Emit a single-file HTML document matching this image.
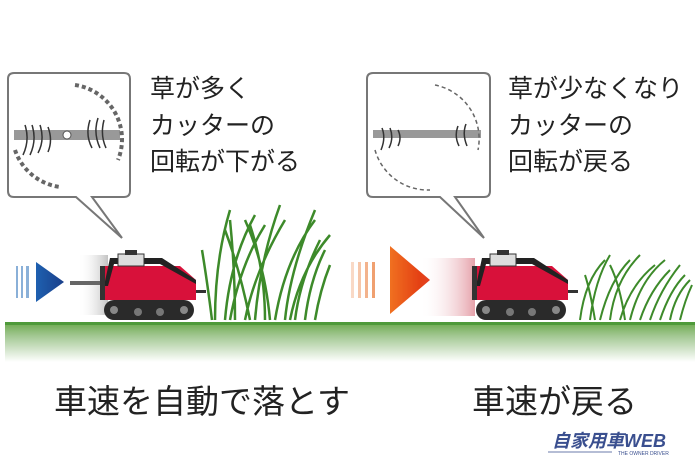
<!DOCTYPE html>
<html><head><meta charset="utf-8"><style>
body{margin:0;width:700px;height:466px;background:#fff;overflow:hidden;font-family:"Liberation Sans","Noto Sans CJK JP",sans-serif}
</style></head><body>
<svg width="700" height="466" viewBox="0 0 700 466" xmlns="http://www.w3.org/2000/svg">
<defs>
<linearGradient id="gr" x1="0" y1="0" x2="0" y2="1"><stop offset="0" stop-color="#6aa84a"/><stop offset="0.35" stop-color="#a3c893"/><stop offset="1" stop-color="#fff"/></linearGradient>
<linearGradient id="blue" x1="0" y1="0" x2="1" y2="0"><stop offset="0" stop-color="#1e60b0"/><stop offset="1" stop-color="#1a3f8a"/></linearGradient>
<linearGradient id="red" x1="0" y1="0" x2="1" y2="0"><stop offset="0" stop-color="#f07020"/><stop offset="1" stop-color="#e03010"/></linearGradient>
<linearGradient id="blurL" x1="0" y1="0" x2="1" y2="0"><stop offset="0" stop-color="#fff" stop-opacity="0"/><stop offset="1" stop-color="#999"/></linearGradient>
<linearGradient id="blurR" x1="0" y1="0" x2="1" y2="0"><stop offset="0" stop-color="#fff" stop-opacity="0"/><stop offset="1" stop-color="#c45"/></linearGradient>
<g id="mower">
 <path d="M0,8 L80,8 L96,22 L96,42 L0,42 Z" fill="#d8113a"/>
 <path d="M10,0 L62,0 L96,22 L96,26 L60,6 L14,6 L8,28 L4,28 Z" fill="#222"/>
 <rect x="18" y="-4" width="26" height="12" fill="#ddd" stroke="#333"/>
 <rect x="25" y="-8" width="12" height="5" fill="#333"/>
 <path d="M0,8 L5,8 L5,42 L0,42Z" fill="#333"/>
 <rect x="96" y="32" width="10" height="3" fill="#333"/>
 <rect x="4" y="42" width="90" height="20" rx="10" fill="#2a2a2a"/>
 <circle cx="14" cy="52" r="4" fill="#888"/><circle cx="84" cy="52" r="4" fill="#888"/>
 <circle cx="38" cy="54" r="4" fill="#777"/><circle cx="60" cy="54" r="4" fill="#777"/>
</g>
</defs>
<rect x="5" y="322" width="690" height="40" fill="url(#gr)"/>
<rect x="5" y="322" width="690" height="3" fill="#4f9a3a"/>

<path d="M14,73 H124 Q130,73 130,79 V191 Q130,197 124,197 H92 L122,238 L76,197 H14 Q8,197 8,191 V79 Q8,73 14,73Z" fill="#fff" stroke="#777" stroke-width="2"/>
<rect x="14" y="130" width="106" height="10" fill="#999"/>
<path d="M75,85 A55,55 0 0 1 118,160" fill="none" stroke="#666" stroke-width="4" stroke-dasharray="4 3"/>
<path d="M15,150 A55,55 0 0 0 60,187" fill="none" stroke="#666" stroke-width="4" stroke-dasharray="4 3"/>
<g stroke="#333" fill="none" stroke-width="1.5"><path d="M25,125 q5,15 -2,30 M32,125 q5,15 -2,30 M40,125 q5,15 -2,28 M48,127 q5,13 0,25 M90,120 q-5,15 2,28 M98,118 q-5,15 2,30 M104,120 q-4,15 2,28"/></g>
<circle cx="67" cy="135" r="4" fill="#fff" stroke="#555"/>
<g font-size="25" fill="#222"><text x="150" y="97">草が多く</text><text x="150" y="134">カッターの</text><text x="150" y="170">回転が下がる</text></g>

<path d="M373,73 H484 Q490,73 490,79 V191 Q490,197 484,197 H455 L484,238 L440,197 H373 Q367,197 367,191 V79 Q367,73 373,73Z" fill="#fff" stroke="#777" stroke-width="2"/>
<rect x="373" y="130" width="108" height="8" fill="#999"/>
<path d="M435,85 A55,55 0 0 1 478,150" fill="none" stroke="#666" stroke-width="1.5" stroke-dasharray="4 3"/>
<path d="M375,150 A55,55 0 0 0 430,190" fill="none" stroke="#666" stroke-width="1.5" stroke-dasharray="4 3"/>
<g stroke="#333" fill="none" stroke-width="1.5"><path d="M382,128 q4,10 -1,22 M390,128 q4,10 -1,20 M398,130 q4,8 0,16 M458,126 q-4,10 1,20 M466,124 q-4,10 1,22"/></g>
<g font-size="25" fill="#222"><text x="508" y="97">草が少なくなり</text><text x="508" y="134">カッターの</text><text x="508" y="170">回転が戻る</text></g>

<g fill="#8ab0d8"><rect x="16" y="266" width="2" height="32"/><rect x="21" y="266" width="2" height="32"/><rect x="26" y="266" width="3" height="32"/></g>
<path d="M36,262 L64,282 L36,302Z" fill="url(#blue)"/>
<rect x="78" y="255" width="30" height="60" fill="url(#blurL)" opacity="0.6"/>
<rect x="70" y="281" width="32" height="4" fill="#666"/>
<use href="#mower" transform="translate(100,258)"/>
<g stroke="#3d8a2a" stroke-width="2.5" fill="none">
<path d="M215,320 q0,-60 15,-110 M225,320 q5,-60 30,-105 M235,320 q0,-50 -5,-100 M245,320 q10,-50 40,-100 M255,320 q5,-60 25,-115 M265,320 q0,-50 -15,-95 M275,320 q10,-60 40,-100 M285,320 q5,-50 30,-110 M295,320 q5,-40 25,-80 M305,320 q5,-40 20,-70 M212,320 q-5,-40 -10,-70 M250,320 q-10,-50 -25,-90 M230,320 q10,-55 35,-95 M270,320 q-5,-55 -25,-100 M290,320 q10,-50 40,-85 M315,320 q5,-30 15,-55"/>
</g>

<g fill="#f0a070"><rect x="351" y="262" width="3" height="36" opacity=".4"/><rect x="358" y="262" width="3" height="36" opacity=".6"/><rect x="365" y="262" width="3" height="36" opacity=".8"/><rect x="372" y="262" width="3" height="36"/></g>
<path d="M390,246 L430,280 L390,314Z" fill="url(#red)"/>
<rect x="420" y="258" width="55" height="58" fill="url(#blurR)" opacity="0.5"/>
<use href="#mower" transform="translate(472,258)"/>
<g stroke="#3d8a2a" stroke-width="2" fill="none">
<path d="M580,320 q5,-40 25,-60 M590,320 q5,-40 20,-65 M600,320 q10,-40 30,-60 M610,320 q5,-40 30,-65 M620,320 q10,-35 35,-55 M630,320 q10,-40 35,-60 M640,320 q10,-30 30,-50 M650,320 q10,-30 30,-55 M660,320 q10,-30 25,-45 M670,320 q5,-25 20,-40 M595,320 q-5,-30 -10,-45 M625,320 q-5,-35 -15,-55 M680,320 q5,-20 12,-35"/>
</g>

<g font-size="33" fill="#222"><text x="54" y="413">車速を自動で落とす</text><text x="472" y="413">車速が戻る</text></g>
<text x="552" y="447" font-size="18" font-style="italic" fill="#3a4f8f" font-weight="bold">自家用車WEB</text>
<line x1="548" y1="452" x2="612" y2="452" stroke="#3a4f8f" stroke-width="0.8"/>
<text x="618" y="455" font-size="5" fill="#3a4f8f">THE OWNER DRIVER</text>
</svg>
</body></html>
